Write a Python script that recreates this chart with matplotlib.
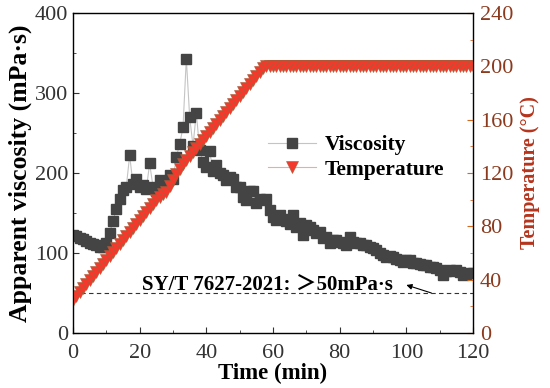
import matplotlib.pyplot as plt
from matplotlib.ticker import MultipleLocator

# tiempo (min), una lectura por minuto
tiempo = list(range(0, 121))

# viscosidad aparente (mPa·s)
viscosidad = [122, 121, 119, 117, 115, 113, 111, 110, 108, 107,
              112, 125, 140, 155, 167, 179, 183, 222, 186, 193,
              183, 185, 180, 212, 183, 178, 191, 187, 189, 197,
              192, 220, 236, 257, 343, 270, 234, 275, 229, 214,
              207, 227, 203, 210, 200, 197, 191, 195, 193, 183,
              182, 170, 166, 177, 178, 162, 168, 166, 168, 154,
              145, 141, 148, 143, 140, 136, 147, 133, 137, 122,
              135, 133, 129, 125, 126, 119, 120, 112, 116, 116,
              114, 112, 110, 120, 114, 112, 112, 110, 110, 108,
              106, 104, 100, 98, 95, 96, 95, 93, 91, 89,
              91, 91, 88, 87, 86, 85, 85, 83, 82, 81,
              79, 72, 77, 79, 78, 79, 76, 72, 74, 75, 75]

# temperatura (°C)
temperatura = [25, 28, 31, 34, 37, 40, 43, 46, 49, 52,
               55, 58, 61, 64, 67, 70, 73, 76, 79, 82,
               85, 88, 91, 94, 97, 100, 102, 104, 106, 110,
               115, 119, 123, 127, 130, 133, 136, 139, 142, 145,
               148, 151, 154, 157, 160, 163, 166, 169, 172, 175,
               178, 181, 184, 187, 190, 193, 196, 199, 200, 200,
               200, 200, 200, 200, 200, 200, 200, 200, 200, 200,
               200, 200, 200, 200, 200, 200, 200, 200, 200, 200,
               200, 200, 200, 200, 200, 200, 200, 200, 200, 200,
               200, 200, 200, 200, 200, 200, 200, 200, 200, 200,
               200, 200, 200, 200, 200, 200, 200, 200, 200, 200,
               200, 200, 200, 200, 200, 200, 200, 200, 200, 200, 200]

limite = 50
texto_norma = 'SY/T 7627-2021: ＞50mPa·s'

plt.rcParams['font.family'] = ['Liberation Serif', 'Noto Sans CJK SC']

color_temp = '#f2392c'
color_eje_temp = '#8b3a1e'

fig = plt.figure(figsize=(5.5, 3.88), dpi=100)
ax = fig.add_axes([0.1327, 0.1418, 0.7273, 0.8247])
ax2 = ax.twinx()

l1, = ax.plot(tiempo, viscosidad, color='#c4c4c4', lw=0.8, marker='s',
              ms=6.8, mfc='#444444', mec='#444444', label='Viscosity')
l2, = ax2.plot(tiempo, temperatura, color='#f2a8a0', lw=0.8, marker='v',
               ms=8.5, mfc=color_temp, mec='#a0603a', mew=0.4, label='Temperature')

# linea del limite de la norma
ax.axhline(limite, ls=(0, (4, 3)), color='#333333', lw=0.8)
ax.text(20.6, 54, texto_norma, fontsize=15, fontweight='bold')
ax.annotate('', xy=(100, 60), xytext=(107.5, 50),
            arrowprops=dict(arrowstyle='-|>', color='black', lw=0.8,
                            mutation_scale=8, shrinkA=0, shrinkB=0))

ax.set_xlim(0, 120)
ax.set_ylim(0, 400)
ax2.set_ylim(0, 240)
ax.xaxis.set_major_locator(MultipleLocator(20))
ax.xaxis.set_minor_locator(MultipleLocator(10))
ax.yaxis.set_major_locator(MultipleLocator(100))
ax.yaxis.set_minor_locator(MultipleLocator(50))
ax2.yaxis.set_major_locator(MultipleLocator(40))
ax2.yaxis.set_minor_locator(MultipleLocator(20))

ax.tick_params(which='both', direction='in', labelsize=16, colors='#333333')
ax.tick_params(which='major', length=4)
ax.tick_params(which='minor', length=2.5)
ax.tick_params(axis='x', pad=8)
ax2.tick_params(which='both', direction='in', labelsize=16,
                colors='#d2691e', labelcolor=color_eje_temp, pad=5)
ax2.tick_params(which='major', length=4)
ax2.tick_params(which='minor', length=2.5)

ax.set_xlabel('Time (min)', fontsize=16.5, fontweight='bold', labelpad=0)
ax.set_ylabel('Apparent viscosity (mPa·s)', fontsize=18.5, fontweight='bold', labelpad=2)
ax2.set_ylabel('Temperature (°C)', fontsize=14.5, fontweight='bold',
               color='#b5341c', labelpad=5)

for s in ax.spines.values():
    s.set_linewidth(1.0)
    s.set_color('#333333')

ax2.legend(handles=[l1, l2], loc='center left', bbox_to_anchor=(0.44, 0.548),
           frameon=False, prop={'weight': 'bold', 'size': 15.5},
           handlelength=2.2, handletextpad=0.4, labelspacing=0.2)

fig.savefig('out.png', dpi=100)
